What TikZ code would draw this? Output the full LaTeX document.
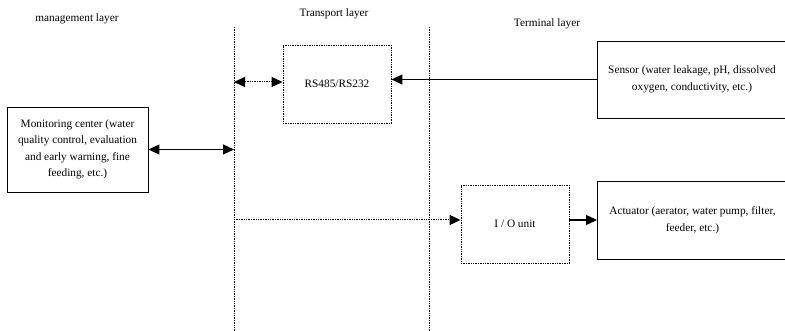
\documentclass[tikz,border=0pt]{standalone}
\usepackage{fontspec}
\setmainfont{Liberation Serif}
\usetikzlibrary{arrows.meta,calc}
\begin{document}
\begin{tikzpicture}[x=1pt,y=-1pt,
  txt/.style={font=\fontsize{11.3}{16.5}\selectfont, align=center, inner sep=0pt},
  solidbox/.style={draw, line width=0.9pt, txt},
  dotbox/.style={draw, line width=0.9pt, dash pattern=on 1.4pt off 1pt, txt},
  layerline/.style={line width=0.9pt, dash pattern=on 1.4pt off 1pt},
  tip/.style={-{Triangle[length=11pt,width=10pt]}},
  dtip/.style={{Triangle[length=11pt,width=10pt]}-{Triangle[length=11pt,width=10pt]}},
  conn/.style={line width=1.1pt},
  dconn/.style={line width=1pt, dash pattern=on 1.4pt off 1pt}]
\useasboundingbox (0,0) rectangle (785,331);

% layer captions
\node[txt] (mgmt) at (77,19) {management layer};
\node[txt] (trans) at (334,14) {Transport layer};
\node[txt] (term) at (547,24) {Terminal layer};

% layer boundaries
\coordinate (l1top) at (234,27);
\coordinate (l1bot) at (234,331);
\coordinate (l2top) at (429,27);
\coordinate (l2bot) at (429,331);
\draw[layerline] (l1top) -- (l1bot);
\draw[layerline] (l2top) -- (l2bot);

% blocks
\node[solidbox, minimum width=141pt, minimum height=85pt] (mon) at (77.5,149.5)
  {Monitoring center (water\\quality control, evaluation\\and early warning, fine\\feeding, etc.)};
\node[dotbox, minimum width=108pt, minimum height=78pt] (rs) at (337,84) {RS485/RS232};
\node[solidbox, minimum width=190pt, minimum height=77pt] (sensor) at (692,79.5)
  {Sensor (water leakage, pH, dissolved\\oxygen, conductivity, etc.)};
\node[dotbox, minimum width=108pt, minimum height=78pt] (io) at (515,224) {I / O unit};
\node[solidbox, minimum width=190pt, minimum height=78pt] (act) at (692.5,220)
  {Actuator (aerator, water pump, filter,\\feeder, etc.)};

% connectors
\coordinate (rsl) at (234,82);
\draw[dconn, dtip] (rsl) -- (rsl -| rs.west);
\draw[conn, tip] (sensor.west) -- (sensor.west -| rs.east);
\draw[conn, dtip] (mon.east) -- (mon.east -| l1top);
\coordinate (iol) at (234,220);
\draw[dconn, tip] (iol) -- (iol -| io.west);
\draw[conn, tip] (act.west -| io.east) -- (act.west);
\end{tikzpicture}
\end{document}
